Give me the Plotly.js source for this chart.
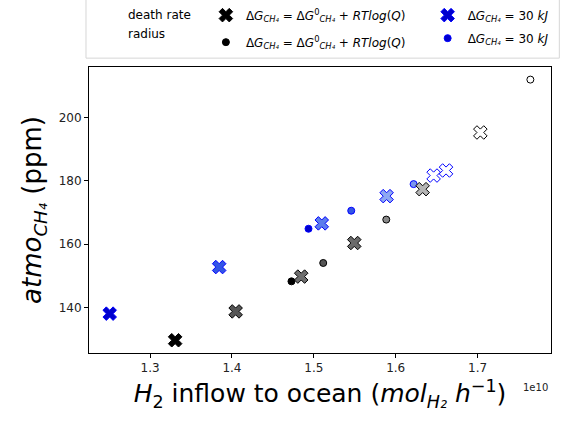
<!DOCTYPE html>
<html>
<head>
<meta charset="utf-8">
<script src="https://cdn.plot.ly/plotly-3.0.1.min.js"></script>
<style>html,body{margin:0;padding:0;background:#fff;}#chart{width:574px;height:422px;}</style>
</head>
<body>
<div id="chart"></div>
<script>
// Death-rate series, ΔG = ΔG0 + RTlog(Q)
const deathX = [1.3306e10, 1.4045e10, 1.4846e10, 1.5494e10, 1.6329e10, 1.7034e10];
const deathY = [129.7, 138.8, 149.8, 160.4, 177.4, 195.3];
const deathFill = ['#000000', '#555555', '#6e6e6e', '#6a6a6a', '#b4b4b4', '#ffffff'];
// Radius series, ΔG = ΔG0 + RTlog(Q)
const radiusX = [1.4727e10, 1.5115e10, 1.5885e10, 1.7645e10];
const radiusY = [148.3, 154.1, 167.8, 212.0];
const radiusFill = ['#000000', '#555555', '#8a8a8a', '#ffffff'];
// Death-rate series, ΔG = 30 kJ
const death30X = [1.2507e10, 1.3844e10, 1.5097e10, 1.5889e10, 1.6463e10, 1.6615e10];
const death30Y = [138.1, 152.8, 166.6, 175.2, 181.7, 183.3];
const death30Fill = ['#0000cd', '#3355e6', '#5b7cec', '#8ea8f2', '#ffffff', '#ffffff'];
// Radius series, ΔG = 30 kJ
const radius30X = [1.4935e10, 1.5457e10, 1.6219e10];
const radius30Y = [164.9, 170.6, 179.0];
const radius30Fill = ['#0000cd', '#3355e6', '#7b96ee'];

const tickVals = [1.3e10, 1.4e10, 1.5e10, 1.6e10, 1.7e10];
const tickText = ['1.3', '1.4', '1.5', '1.6', '1.7'];
const yTicks = [140, 160, 180, 200];

const labelQ = 'Δ<i>G</i><sub><i>CH₄</i></sub> = Δ<i>G</i><sup>0</sup><sub><i>CH₄</i></sub> + <i>RTlog</i>(<i>Q</i>)';
const label30 = 'Δ<i>G</i><sub><i>CH₄</i></sub> = 30 <i>kJ</i>';

const traces = [
  {x: radiusX, y: radiusY, type: 'scatter', mode: 'markers', name: labelQ, legend: 'legend', legendrank: 2, legendgroup: 'rq',
   marker: {symbol: 'circle', size: 7, color: radiusFill, line: {color: '#000000', width: 1}}},
  {x: radius30X, y: radius30Y, type: 'scatter', mode: 'markers', name: label30, legend: 'legend2', legendrank: 2, legendgroup: 'r30',
   marker: {symbol: 'circle', size: 7, color: radius30Fill, line: {color: '#0000ff', width: 1}}},
  {x: death30X, y: death30Y, type: 'scatter', mode: 'markers', name: label30, legend: 'legend2', legendrank: 1, legendgroup: 'd30',
   marker: {symbol: 'x', size: 12, color: death30Fill, line: {color: '#0000ff', width: 1}}},
  {x: deathX, y: deathY, type: 'scatter', mode: 'markers', name: labelQ, legend: 'legend', legendrank: 1, legendgroup: 'dq',
   marker: {symbol: 'x', size: 12, color: deathFill, line: {color: '#000000', width: 1}}}
];

const font = {family: 'DejaVu Sans', color: '#000'};
const legendCommon = {
  orientation: 'v', yanchor: 'top', xanchor: 'left', bgcolor: 'rgba(0,0,0,0)', borderwidth: 0,
  font: {family: 'DejaVu Sans', size: 12, color: '#000'}, traceorder: 'grouped'
};

const layout = {
  width: 574, height: 422,
  margin: {l: 89, r: 23, t: 67, b: 69, autoexpand: false},
  paper_bgcolor: '#ffffff', plot_bgcolor: '#ffffff',
  font: font,
  showlegend: true,
  legend: Object.assign({}, legendCommon, {x: 0.253, y: 1.232, tracegroupgap: 8}),
  legend2: Object.assign({}, legendCommon, {x: 0.733, y: 1.232, tracegroupgap: 4}),
  xaxis: {
    range: [1.2254e10, 1.7897e10],
    tickvals: tickVals, ticktext: tickText,
    ticks: 'outside', ticklen: 4, tickwidth: 1, tickcolor: '#000',
    tickfont: {family: 'DejaVu Sans', size: 12, color: '#222'},
    showgrid: false, zeroline: false,
    showline: true, linecolor: '#000', linewidth: 1, mirror: true,
    title: {text: '<i>H</i><sub>2</sub> inflow to ocean (<i>mol</i><sub><i>H₂</i></sub> <i>h</i><sup>−1</sup>)',
            font: {family: 'DejaVu Sans', size: 25, color: '#000'}, standoff: 10}
  },
  yaxis: {
    range: [125.67, 215.98],
    tickvals: yTicks,
    ticks: 'outside', ticklen: 4, tickwidth: 1, tickcolor: '#000',
    tickfont: {family: 'DejaVu Sans', size: 12, color: '#222'},
    showgrid: false, zeroline: false,
    showline: true, linecolor: '#000', linewidth: 1, mirror: true,
    title: {text: '<i>atmo</i><sub><i>CH₄</i></sub> (ppm)',
            font: {family: 'DejaVu Sans', size: 26, color: '#000'}, standoff: 9}
  },
  shapes: [
    {type: 'rect', xref: 'paper', yref: 'paper', x0: -0.0065, x1: 1.018, y0: 1.031, y1: 1.24,
     line: {color: '#d6d6d6', width: 1}, fillcolor: 'rgba(255,255,255,0)', layer: 'below'}
  ],
  annotations: [
    {xref: 'paper', yref: 'paper', x: 0.08, y: 1.181, xanchor: 'left', yanchor: 'middle', showarrow: false,
     text: 'death rate', font: {family: 'DejaVu Sans', size: 12, color: '#000'}},
    {xref: 'paper', yref: 'paper', x: 0.08, y: 1.114, xanchor: 'left', yanchor: 'middle', showarrow: false,
     text: 'radius', font: {family: 'DejaVu Sans', size: 12, color: '#000'}},
    {xref: 'paper', yref: 'paper', x: 0.966, y: -0.12, xanchor: 'center', yanchor: 'middle', showarrow: false,
     text: '1e10', font: {family: 'DejaVu Sans', size: 10, color: '#222'}}
  ]
};

Plotly.newPlot('chart', traces, layout, {displayModeBar: false, staticPlot: true});
</script>
</body>
</html>
